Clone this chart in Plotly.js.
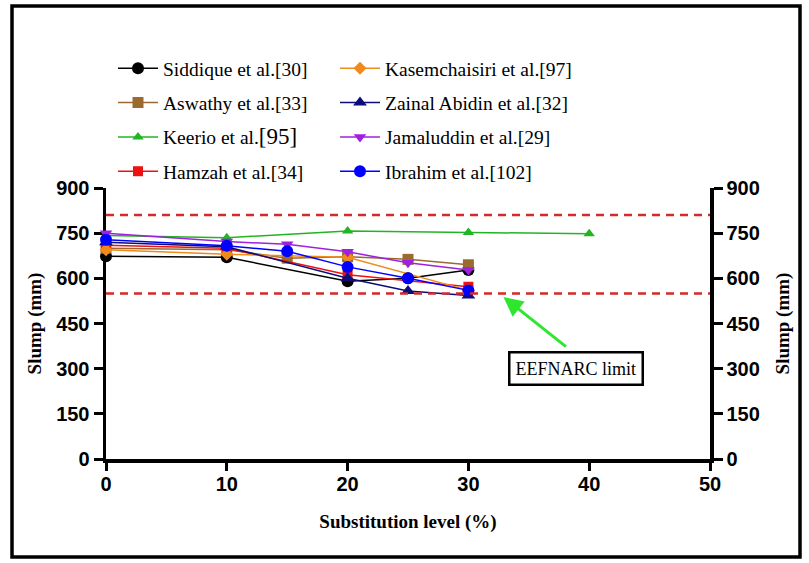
<!DOCTYPE html>
<html>
<head>
<meta charset="utf-8">
<script src="https://cdn.plot.ly/plotly-3.0.1.min.js"></script>
<style>html,body{margin:0;padding:0;background:#fff;}#chart{width:809px;height:563px;}</style>
</head>
<body>
<div id="chart"></div>
<script>
// ---- data ----
var xSiddique = [0, 10, 20, 25, 30];
var ySiddique = [673, 670, 590, 600, 628];
var xAswathy = [0, 10, 15, 20, 25, 30];
var yAswathy = [700, 695, 667, 672, 663, 645];
var xKeerio = [0, 10, 20, 30, 40];
var yKeerio = [742, 735, 757, 752, 748];
var xHamzah = [0, 10, 20, 30];
var yHamzah = [710, 700, 612, 572];
var xKasem = [0, 10, 20, 30];
var yKasem = [695, 680, 670, 560];
var xZainal = [0, 10, 20, 25, 30];
var yZainal = [720, 705, 600, 558, 543];
var xJamal = [0, 10, 15, 20, 25, 30];
var yJamal = [750, 722, 713, 688, 652, 628];
var xIbrahim = [0, 10, 15, 20, 25, 30];
var yIbrahim = [728, 708, 690, 638, 600, 560];
var limits = [550, 810];
var xTicks = [0, 10, 20, 30, 40, 50];
var yTicks = [0, 150, 300, 450, 600, 750, 900];
var limitLabel = 'EEFNARC limit';
var limitArrowTip = [32.9, 538];
var limitArrowTail = [38.2, 369];
var limitLabelPos = [38.9, 299];

var serif = 'Liberation Serif, Times New Roman, serif';
var sans = 'Liberation Sans, Arial, sans-serif';

function tr(name, x, y, color, symbol, legend, size) {
  return {
    type: 'scatter', mode: 'lines+markers', name: name, x: x, y: y,
    line: {color: color, width: 1.5},
    marker: {color: color, symbol: symbol, size: size || 11},
    legend: legend, legendgroup: name, cliponaxis: false
  };
}

var traces = [
  tr('Siddique et al.[30]', xSiddique, ySiddique, '#000000', 'circle', 'legend', 12),
  tr('Aswathy et al.[33]', xAswathy, yAswathy, '#9a6a2e', 'square', 'legend', 11),
  tr('Keerio et al.<span style="font-size:23px">[95]</span>', xKeerio, yKeerio, '#22b522', 'triangle-up', 'legend', 10),
  tr('Hamzah et al.[34]', xHamzah, yHamzah, '#ee1111', 'square', 'legend', 10),
  tr('Kasemchaisiri et al.[97]', xKasem, yKasem, '#f08a1c', 'diamond', 'legend2', 10),
  tr('Zainal Abidin et al.[32]', xZainal, yZainal, '#0c0c7a', 'triangle-up', 'legend2', 12),
  tr('Jamaluddin et al.[29]', xJamal, yJamal, '#a020e0', 'triangle-down', 'legend2', 11),
  tr('Ibrahim et al.[102]', xIbrahim, yIbrahim, '#0000ff', 'circle', 'legend2', 12),
  // empty trace only to register the right-hand axis
  {type: 'scatter', mode: 'markers', x: [], y: [], yaxis: 'y2', showlegend: false, hoverinfo: 'skip'}
];

var L = 106, R = 99, T = 188, B = 104, W = 809, H = 563;
var pw = W - L - R, ph = H - T - B;
function px(x) { return (x - L) / pw; }
function py(y) { return (H - B - y) / ph; }

var shapes = limits.map(function (v) {
  return {type: 'line', xref: 'paper', yref: 'y', x0: 0, x1: 1, y0: v, y1: v,
          line: {color: '#d42a2a', width: 2.5, dash: '8px,6px'}, layer: 'above'};
});
shapes.push({type: 'rect', xref: 'paper', yref: 'paper',
  x0: px(12), x1: px(800), y0: py(557), y1: py(6),
  line: {color: '#000', width: 3.5}});

var axisCommon = {
  showline: true, linecolor: '#000', linewidth: 3.5,
  ticks: 'outside', ticklen: 9, tickwidth: 3, tickcolor: '#000',
  showgrid: false, zeroline: false, layer: 'below traces',
  tickfont: {family: sans, size: 20, color: '#000', weight: 'bold'}
};
var titleFont = {family: serif, size: 19, color: '#000', weight: 'bold'};

var layout = {
  width: W, height: H,
  margin: {l: L, r: R, t: T, b: B},
  paper_bgcolor: '#fff', plot_bgcolor: '#fff',
  showlegend: true,
  xaxis: Object.assign({}, axisCommon, {
    range: [0, 50], tickvals: xTicks, ticktext: xTicks.map(String),
    ticklen: 8, ticklabelstandoff: -4,
    title: {text: 'Substitution level (%)', font: titleFont, standoff: 22}
  }),
  yaxis: Object.assign({}, axisCommon, {
    range: [0, 900], tickvals: yTicks, ticktext: yTicks.map(String),
    title: {text: 'Slump (mm)', font: titleFont, standoff: 10}
  }),
  yaxis2: Object.assign({}, axisCommon, {
    range: [0, 900], tickvals: yTicks, ticktext: yTicks.map(String),
    overlaying: 'y', side: 'right', anchor: 'x',
    title: {text: 'Slump (mm)', font: titleFont, standoff: 18}
  }),
  legend: {x: px(113), y: py(49), xanchor: 'left', yanchor: 'top', orientation: 'v',
    bgcolor: 'rgba(0,0,0,0)', tracegroupgap: 6, itemwidth: 40,
    font: {family: serif, size: 19.5, color: '#000'}},
  legend2: {x: px(335), y: py(49), xanchor: 'left', yanchor: 'top', orientation: 'v',
    bgcolor: 'rgba(0,0,0,0)', tracegroupgap: 6, itemwidth: 40,
    font: {family: serif, size: 19.5, color: '#000'}},
  shapes: shapes,
  annotations: [
    {x: limitLabelPos[0], y: limitLabelPos[1], xref: 'x', yref: 'y', text: limitLabel,
     showarrow: false, bordercolor: '#000', borderwidth: 2.5, borderpad: 5, bgcolor: '#fff',
     font: {family: serif, size: 18, color: '#000'}},
    {x: limitArrowTip[0], y: limitArrowTip[1], xref: 'x', yref: 'y',
     ax: limitArrowTail[0], ay: limitArrowTail[1], axref: 'x', ayref: 'y',
     text: '', showarrow: true, arrowhead: 2, arrowsize: 1.3, arrowwidth: 3, arrowcolor: '#2ee62e'}
  ]
};

Plotly.newPlot('chart', traces, layout, {displayModeBar: false, staticPlot: true});
</script>
</body>
</html>
